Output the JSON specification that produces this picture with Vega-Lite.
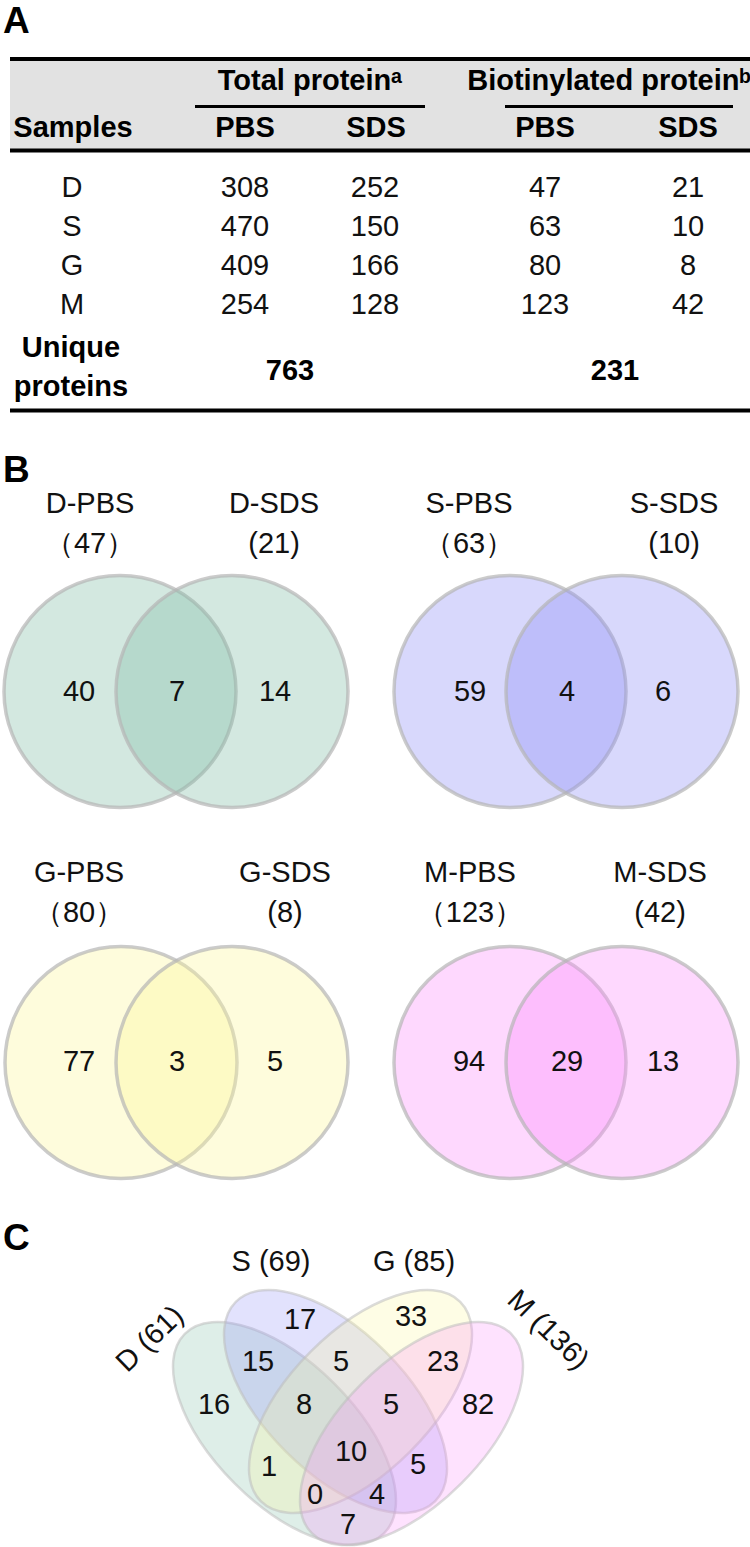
{
  "$schema": "https://vega.github.io/schema/vega-lite/v6.json",
  "width": 750,
  "height": 1547,
  "autosize": {"type": "none"},
  "padding": 0,
  "background": "white",
  "config": {
    "view": {"stroke": null},
    "text": {"font": "Liberation Sans", "fontSize": 29, "color": "#111111"}
  },
  "datasets": {
    "table": [
      {"Samples": "D", "Total PBS": 308, "Total SDS": 252, "Biotinylated PBS": 47, "Biotinylated SDS": 21},
      {"Samples": "S", "Total PBS": 470, "Total SDS": 150, "Biotinylated PBS": 63, "Biotinylated SDS": 10},
      {"Samples": "G", "Total PBS": 409, "Total SDS": 166, "Biotinylated PBS": 80, "Biotinylated SDS": 8},
      {"Samples": "M", "Total PBS": 254, "Total SDS": 128, "Biotinylated PBS": 123, "Biotinylated SDS": 42}
    ],
    "pairSets": [
      {"sample": "D", "buffer": "PBS", "total": 47},
      {"sample": "D", "buffer": "SDS", "total": 21},
      {"sample": "S", "buffer": "PBS", "total": 63},
      {"sample": "S", "buffer": "SDS", "total": 10},
      {"sample": "G", "buffer": "PBS", "total": 80},
      {"sample": "G", "buffer": "SDS", "total": 8},
      {"sample": "M", "buffer": "PBS", "total": 123},
      {"sample": "M", "buffer": "SDS", "total": 42}
    ],
    "pairRegions": [
      {"sample": "D", "region": "PBS only", "count": 40},
      {"sample": "D", "region": "shared", "count": 7},
      {"sample": "D", "region": "SDS only", "count": 14},
      {"sample": "S", "region": "PBS only", "count": 59},
      {"sample": "S", "region": "shared", "count": 4},
      {"sample": "S", "region": "SDS only", "count": 6},
      {"sample": "G", "region": "PBS only", "count": 77},
      {"sample": "G", "region": "shared", "count": 3},
      {"sample": "G", "region": "SDS only", "count": 5},
      {"sample": "M", "region": "PBS only", "count": 94},
      {"sample": "M", "region": "shared", "count": 29},
      {"sample": "M", "region": "SDS only", "count": 13}
    ],
    "quadSets": [
      {"set": "D", "total": 61},
      {"set": "S", "total": 69},
      {"set": "G", "total": 85},
      {"set": "M", "total": 136}
    ],
    "quadRegions": [
      {"region": "D only", "count": 16},
      {"region": "S only", "count": 17},
      {"region": "G only", "count": 33},
      {"region": "M only", "count": 82},
      {"region": "D&S", "count": 15},
      {"region": "S&G", "count": 5},
      {"region": "G&M", "count": 23},
      {"region": "D&S&G", "count": 8},
      {"region": "S&G&M", "count": 5},
      {"region": "D&S&G&M", "count": 10},
      {"region": "D&G", "count": 1},
      {"region": "S&M", "count": 5},
      {"region": "D&G&M", "count": 0},
      {"region": "D&S&M", "count": 4},
      {"region": "D&M", "count": 7}
    ]
  },
  "resolve": {"scale": {"x": "independent", "y": "independent", "color": "independent", "angle": "independent", "strokeWidth": "independent"}},
  "layer": [
    {
      "data": {"values": [
        {"element": "header band"},
        {"element": "top rule"},
        {"element": "header rule"},
        {"element": "bottom rule"},
        {"element": "Total protein rule"},
        {"element": "Biotinylated protein rule"}
      ]},
      "transform": [
        {"calculate": "indexof(['header band','top rule','header rule','bottom rule','Total protein rule','Biotinylated protein rule'], datum.element)", "as": "i"},
        {"calculate": "datum.i + 6", "as": "j"}
      ],
      "mark": {"type": "rule", "strokeCap": "butt"},
      "encoding": {
        "x": {"field": "i", "type": "quantitative", "axis": null,
              "scale": {"domain": [0,1,2,3,4,5,6,7,8,9,10,11], "range": [10,10,10,10,195,505,750,750,750,750,425,733], "zero": false, "nice": false}},
        "x2": {"field": "j"},
        "y": {"field": "i", "type": "quantitative", "axis": null,
              "scale": {"domain": [0,1,2,3,4,5], "range": [104.5,59,150.5,410.5,106.5,106.5], "zero": false, "nice": false}},
        "strokeWidth": {"field": "i", "type": "quantitative", "legend": null,
              "scale": {"domain": [0,1,2,3,4,5], "range": [91,4,4,4,3,3], "zero": false, "nice": false}},
        "color": {"field": "element", "type": "nominal", "legend": null,
              "scale": {"domain": ["header band","top rule","header rule","bottom rule","Total protein rule","Biotinylated protein rule"], "range": ["#e2e2e2","#000000","#000000","#000000","#000000","#000000"]}}
      }
    },
    {
      "data": {"values": [
        {"cell": "Samples", "label": "Samples"},
        {"cell": "Total protein", "label": "Total proteinᵃ"},
        {"cell": "Biotinylated protein", "label": "Biotinylated proteinᵇ"},
        {"cell": "Total PBS", "label": "PBS"},
        {"cell": "Total SDS", "label": "SDS"},
        {"cell": "Biotinylated PBS", "label": "PBS"},
        {"cell": "Biotinylated SDS", "label": "SDS"},
        {"cell": "Unique proteins", "label": "Unique\nproteins"}
      ]},
      "transform": [
        {"calculate": "indexof(['Samples','Total protein','Biotinylated protein','Total PBS','Total SDS','Biotinylated PBS','Biotinylated SDS','Unique proteins'], datum.cell)", "as": "i"}
      ],
      "mark": {"type": "text", "fontWeight": "bold", "fontSize": 29, "lineBreak": "\n", "lineHeight": 39, "color": "#000000"},
      "encoding": {
        "x": {"field": "i", "type": "quantitative", "axis": null,
              "scale": {"domain": [0,1,2,3,4,5,6,7], "range": [73,310,609,245,376,545,688,71], "zero": false, "nice": false}},
        "y": {"field": "i", "type": "quantitative", "axis": null,
              "scale": {"domain": [0,1,2,3,4,5,6,7], "range": [128,81,81,128,128,128,128,348], "zero": false, "nice": false}},
        "text": {"field": "label"}
      }
    },
    {
      "data": {"values": [
        {"protein": "Total", "unique": 763},
        {"protein": "Biotinylated", "unique": 231}
      ]},
      "mark": {"type": "text", "fontWeight": "bold", "fontSize": 29, "color": "#000000"},
      "encoding": {
        "x": {"field": "protein", "type": "nominal", "axis": null,
              "scale": {"type": "point", "padding": 0, "domain": ["Total","Biotinylated"], "range": [290,615]}},
        "y": {"field": "protein", "type": "nominal", "axis": null,
              "scale": {"type": "point", "padding": 0, "domain": ["Total","Biotinylated"], "range": [371,371]}},
        "text": {"field": "unique"}
      }
    },
    {
      "data": {"name": "table"},
      "transform": [
        {"fold": ["Samples","Total PBS","Total SDS","Biotinylated PBS","Biotinylated SDS"], "as": ["column","value"]},
        {"calculate": "indexof(['Samples','Total PBS','Total SDS','Biotinylated PBS','Biotinylated SDS'], datum.column)", "as": "i"}
      ],
      "mark": {"type": "text", "fontSize": 29},
      "encoding": {
        "x": {"field": "i", "type": "quantitative", "axis": null,
              "scale": {"domain": [0,1,2,3,4], "range": [72,245,375,545,688], "zero": false, "nice": false}},
        "y": {"field": "Samples", "type": "nominal", "axis": null,
              "scale": {"type": "point", "padding": 0, "domain": ["D","S","G","M"], "range": [188,305]}},
        "text": {"field": "value"}
      }
    },
    {
      "data": {"values": [{"panel": "A"}, {"panel": "B"}, {"panel": "C"}]},
      "transform": [{"calculate": "indexof(['A','B','C'], datum.panel)", "as": "i"}],
      "mark": {"type": "text", "fontSize": 37, "fontWeight": "bold", "align": "left", "color": "#000000"},
      "encoding": {
        "x": {"field": "i", "type": "quantitative", "axis": null,
              "scale": {"domain": [0,1,2], "range": [3,3,3], "zero": false, "nice": false}},
        "y": {"field": "i", "type": "quantitative", "axis": null,
              "scale": {"domain": [0,1,2], "range": [22,471,1239], "zero": false, "nice": false}},
        "text": {"field": "panel"}
      }
    },
    {
      "data": {"name": "pairSets"},
      "transform": [{"calculate": "indexof(['D PBS','D SDS','S PBS','S SDS','G PBS','G SDS','M PBS','M SDS'], datum.sample + ' ' + datum.buffer)", "as": "i"}],
      "mark": {"type": "point", "shape": "circle", "filled": true, "size": 53824, "opacity": 1, "fillOpacity": 0.35, "stroke": "#b5b5b5", "strokeOpacity": 0.7, "strokeWidth": 3.5},
      "encoding": {
        "x": {"field": "i", "type": "quantitative", "axis": null,
              "scale": {"domain": [0,1,2,3,4,5,6,7], "range": [120,232,510,622,121,232,510,622], "zero": false, "nice": false}},
        "y": {"field": "i", "type": "quantitative", "axis": null,
              "scale": {"domain": [0,1,2,3,4,5,6,7], "range": [691.5,691.5,691.5,691.5,1062.5,1062.5,1062.5,1062.5], "zero": false, "nice": false}},
        "color": {"field": "sample", "type": "nominal", "legend": null,
              "scale": {"domain": ["D","S","G","M"], "range": ["#81bda6","#9090f6","#fcf69b","#fc90fc"]}}
      }
    },
    {
      "data": {"name": "pairSets"},
      "transform": [
        {"calculate": "indexof(['D PBS','D SDS','S PBS','S SDS','G PBS','G SDS','M PBS','M SDS'], datum.sample + ' ' + datum.buffer)", "as": "i"},
        {"calculate": "datum.sample + '-' + datum.buffer + '\\n' + (datum.buffer === 'PBS' ? '（' + datum.total + '）' : '(' + datum.total + ')')", "as": "label"}
      ],
      "mark": {"type": "text", "fontSize": 29, "lineBreak": "\n", "lineHeight": 40},
      "encoding": {
        "x": {"field": "i", "type": "quantitative", "axis": null,
              "scale": {"domain": [0,1,2,3,4,5,6,7], "range": [90,274,469,674,79,285,470,660], "zero": false, "nice": false}},
        "y": {"field": "i", "type": "quantitative", "axis": null,
              "scale": {"domain": [0,1,2,3,4,5,6,7], "range": [504,504,504,504,873,873,873,873], "zero": false, "nice": false}},
        "text": {"field": "label"}
      }
    },
    {
      "data": {"name": "pairRegions"},
      "transform": [{"calculate": "indexof(['D PBS only','D shared','D SDS only','S PBS only','S shared','S SDS only','G PBS only','G shared','G SDS only','M PBS only','M shared','M SDS only'], datum.sample + ' ' + datum.region)", "as": "i"}],
      "mark": {"type": "text", "fontSize": 29},
      "encoding": {
        "x": {"field": "i", "type": "quantitative", "axis": null,
              "scale": {"domain": [0,1,2,3,4,5,6,7,8,9,10,11], "range": [79,177,275,470,567,663,79,177,275,469,567,663], "zero": false, "nice": false}},
        "y": {"field": "i", "type": "quantitative", "axis": null,
              "scale": {"domain": [0,1,2,3,4,5,6,7,8,9,10,11], "range": [692,692,692,692,692,692,1062,1062,1062,1062,1062,1062], "zero": false, "nice": false}},
        "text": {"field": "count"}
      }
    },
    {
      "data": {"name": "quadSets"},
      "transform": [{"calculate": "indexof(['D','S','G','M'], datum.set)", "as": "i"}],
      "mark": {"type": "point", "filled": true, "size": 79524, "opacity": 1, "fillOpacity": 0.26, "stroke": "#bdbdbd", "strokeOpacity": 0.55, "strokeWidth": 2.5,
               "shape": "M -1 0 C -1 -0.2761 -0.5523 -0.5 0 -0.5 C 0.5523 -0.5 1 -0.2761 1 0 C 1 0.2761 0.5523 0.5 0 0.5 C -0.5523 0.5 -1 0.2761 -1 0 Z"},
      "encoding": {
        "x": {"field": "i", "type": "quantitative", "axis": null,
              "scale": {"domain": [0,1,2,3], "range": [284.5,335.5,360.5,411.5], "zero": false, "nice": false}},
        "y": {"field": "i", "type": "quantitative", "axis": null,
              "scale": {"domain": [0,1,2,3], "range": [1433.5,1401.5,1401.5,1433.5], "zero": false, "nice": false}},
        "angle": {"field": "i", "type": "quantitative", "legend": null,
              "scale": {"domain": [0,1,2,3], "range": [45,45,135,135], "zero": false, "nice": false}},
        "color": {"field": "set", "type": "nominal", "legend": null,
              "scale": {"domain": ["D","S","G","M"], "range": ["#81bda6","#9090f6","#fcf69b","#fc90fc"]}}
      }
    },
    {
      "data": {"name": "quadSets"},
      "transform": [
        {"calculate": "indexof(['D','S','G','M'], datum.set)", "as": "i"},
        {"calculate": "datum.set + ' (' + datum.total + ')'", "as": "label"}
      ],
      "mark": {"type": "text", "fontSize": 29},
      "encoding": {
        "x": {"field": "i", "type": "quantitative", "axis": null,
              "scale": {"domain": [0,1,2,3], "range": [150,271,414,548], "zero": false, "nice": false}},
        "y": {"field": "i", "type": "quantitative", "axis": null,
              "scale": {"domain": [0,1,2,3], "range": [1339,1262,1262,1330], "zero": false, "nice": false}},
        "angle": {"field": "i", "type": "quantitative", "legend": null,
              "scale": {"domain": [0,1,2,3], "range": [-44,0,0,44], "zero": false, "nice": false}},
        "text": {"field": "label"}
      }
    },
    {
      "data": {"name": "quadRegions"},
      "transform": [{"calculate": "indexof(['D only','S only','G only','M only','D&S','S&G','G&M','D&S&G','S&G&M','D&S&G&M','D&G','S&M','D&G&M','D&S&M','D&M'], datum.region)", "as": "i"}],
      "mark": {"type": "text", "fontSize": 29},
      "encoding": {
        "x": {"field": "i", "type": "quantitative", "axis": null,
              "scale": {"domain": [0,1,2,3,4,5,6,7,8,9,10,11,12,13,14], "range": [214,300,411,478,258,341,443,304,391,351,269,418,315,377,348], "zero": false, "nice": false}},
        "y": {"field": "i", "type": "quantitative", "axis": null,
              "scale": {"domain": [0,1,2,3,4,5,6,7,8,9,10,11,12,13,14], "range": [1405,1320,1317,1405,1362,1362,1362,1405,1405,1452,1467,1465,1495,1495,1525], "zero": false, "nice": false}},
        "text": {"field": "count"}
      }
    }
  ]
}
